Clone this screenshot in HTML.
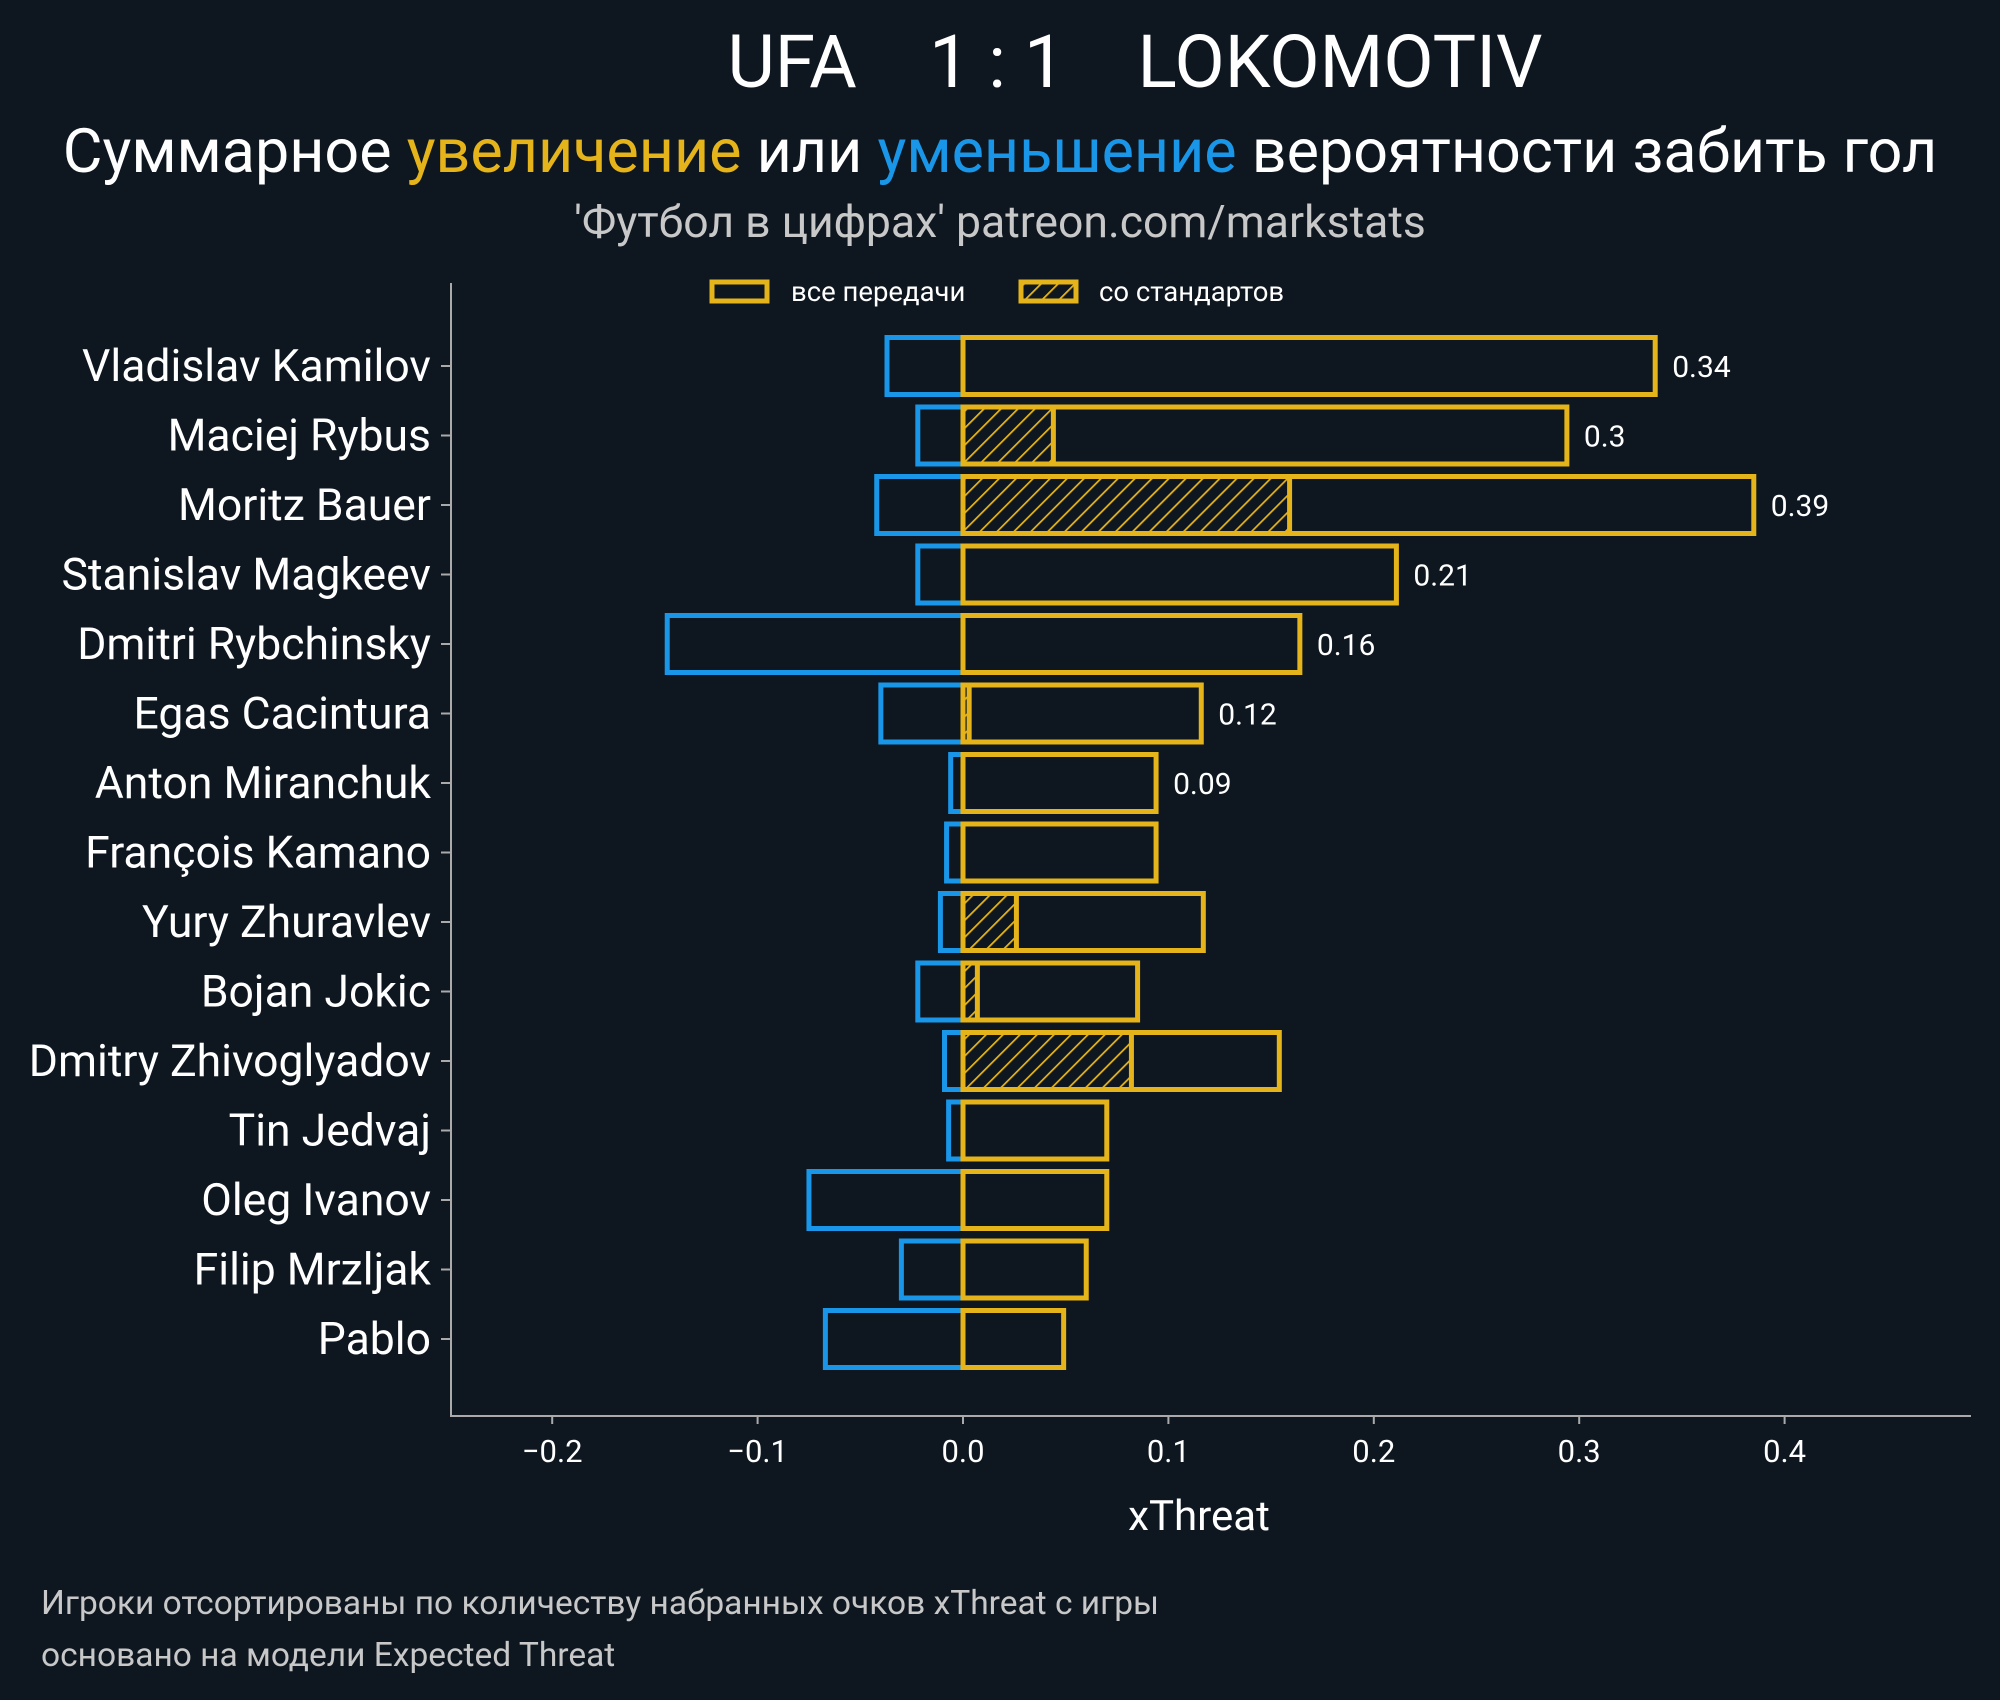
<!DOCTYPE html>
<html><head><meta charset="utf-8"><style>
body{margin:0;background:#0e1720;}
svg{display:block;font-family:"Roboto","Liberation Sans","DejaVu Sans",sans-serif;}
</style></head><body>
<svg id="chart" width="2000" height="1700" viewBox="0 0 2000 1700" xmlns="http://www.w3.org/2000/svg">
<defs><pattern id="hatch" patternUnits="userSpaceOnUse" width="12" height="12" patternTransform="rotate(45)"><line x1="0" y1="0" x2="0" y2="12" stroke="#e5b31a" stroke-width="3.5"/></pattern></defs>
<rect width="2000" height="1700" fill="#0e1720"/>
<text x="1135" y="87" fill="#fff" font-size="73" text-anchor="middle" xml:space="preserve">UFA    1 : 1    LOKOMOTIV</text>
<text x="1000" y="172" fill="#fff" font-size="61" text-anchor="middle">Суммарное <tspan fill="#e5b31a">увеличение</tspan> или <tspan fill="#1a96e8">уменьшение</tspan> вероятности забить гол</text>
<text x="1000" y="237" fill="#c8c8c8" font-size="44.5" text-anchor="middle">'Футбол в цифрах' patreon.com/markstats</text>
<g>
<rect x="712" y="282" width="55" height="19" fill="none" stroke="#e5b31a" stroke-width="5"/>
<text x="791" y="301" fill="#fff" font-size="27.5">все передачи</text>
<rect x="1021" y="282" width="55" height="19" fill="url(#hatch)" stroke="#e5b31a" stroke-width="5"/>
<text x="1099" y="301" fill="#fff" font-size="27.5">со стандартов</text>
</g>
<line x1="451" y1="283" x2="451" y2="1416" stroke="#aaa" stroke-width="2"/>
<line x1="450" y1="1416" x2="1971" y2="1416" stroke="#aaa" stroke-width="2"/>
<g id="bars"></g>
<text x="1199" y="1530" fill="#fff" font-size="42" text-anchor="middle">xThreat</text>
<text x="41" y="1614" fill="#c8c8c8" font-size="33.5">Игроки отсортированы по количеству набранных очков xThreat с игры</text>
<text x="41" y="1666" fill="#c8c8c8" font-size="33.5">основано на модели Expected Threat</text>
</svg>
<script>
const players=["Vladislav Kamilov","Maciej Rybus","Moritz Bauer","Stanislav Magkeev","Dmitri Rybchinsky","Egas Cacintura","Anton Miranchuk","François Kamano","Yury Zhuravlev","Bojan Jokic","Dmitry Zhivoglyadov","Tin Jedvaj","Oleg Ivanov","Filip Mrzljak","Pablo"];
const positive=[0.337,0.294,0.385,0.211,0.164,0.116,0.094,0.094,0.117,0.085,0.154,0.070,0.070,0.060,0.049];
const negative=[-0.037,-0.022,-0.042,-0.022,-0.144,-0.040,-0.006,-0.008,-0.011,-0.022,-0.009,-0.007,-0.075,-0.030,-0.067];
const setPieces=[0,0.044,0.159,0,0,0.003,0,0,0.026,0.007,0.082,0,0,0,0];
const valueLabels=["0.34","0.3","0.39","0.21","0.16","0.12","0.09","","","","","","","",""];
const xTicks=[-0.2,-0.1,0.0,0.1,0.2,0.3,0.4];
const xTickLabels=["−0.2","−0.1","0.0","0.1","0.2","0.3","0.4"];
const NS="http://www.w3.org/2000/svg";
const x=v=>963+v*2054;
const y=i=>366+i*69.5;
const H=57;
const g=document.getElementById('bars');
function mk(t,a){const e=document.createElementNS(NS,t);for(const k in a)e.setAttribute(k,a[k]);g.appendChild(e);return e;}
xTicks.forEach((v,i)=>{
 const t=mk('line',{x1:x(v),x2:x(v),y1:1416,y2:1424,stroke:'#aaa','stroke-width':2});
 
 
 const l=mk('text',{x:x(v),y:1462,fill:'#fff','font-size':31,'text-anchor':'middle'});
 l.textContent=xTickLabels[i];
 
 
});
players.forEach((p,i)=>{
 const cy=y(i);
 const tk=mk('line',{x1:441,x2:451,y1:cy,y2:cy,stroke:'#aaa','stroke-width':2});
 
 
 const n=mk('text',{x:431,y:cy+15,fill:'#fff','font-size':44.5,'text-anchor':'end'});
 n.textContent=p;
 
 
 const nb=mk('rect',{x:x(negative[i]),y:cy-H/2,width:x(0)-x(negative[i]),height:H,fill:'none',stroke:'#1a96e8','stroke-width':5});
 
 
 if(setPieces[i]>0){
  const sb=mk('rect',{x:x(0),y:cy-H/2,width:x(setPieces[i])-x(0),height:H,fill:'url(#hatch)',stroke:'#e5b31a','stroke-width':5});
  
  
 }
 const pb=mk('rect',{x:x(0),y:cy-H/2,width:x(positive[i])-x(0),height:H,fill:'none',stroke:'#e5b31a','stroke-width':5});
 
 
 if(valueLabels[i]){
  const vl=mk('text',{x:x(positive[i])+17,y:cy+11,fill:'#fff','font-size':30});
  vl.textContent=valueLabels[i];
  
  
 }
});
</script>
</body></html>
